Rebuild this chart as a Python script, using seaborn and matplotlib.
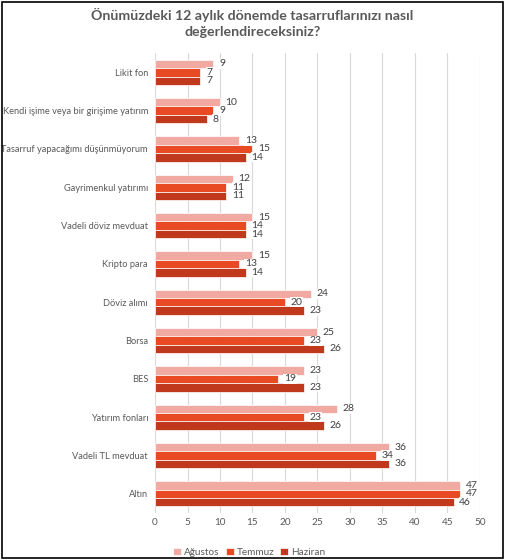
import numpy as np
import pandas as pd
import matplotlib.pyplot as plt
import seaborn as sns

categories = [
    'Likit fon',
    'Kendi işime veya bir girişime yatırım',
    'Tasarruf yapacağımı düşünmüyorum',
    'Gayrimenkul yatırımı',
    'Vadeli döviz mevduat',
    'Kripto para',
    'Döviz alımı',
    'Borsa',
    'BES',
    'Yatırım fonları',
    'Vadeli TL mevduat',
    'Altın',
]
agustos = [9, 10, 13, 12, 15, 15, 24, 25, 23, 28, 36, 47]
temmuz = [7, 9, 15, 11, 14, 13, 20, 23, 19, 23, 34, 47]
haziran = [7, 8, 14, 11, 14, 14, 23, 26, 23, 26, 36, 46]
series = ['Ağustos', 'Temmuz', 'Haziran']

df = pd.DataFrame({
    'kategori': categories * 3,
    'seri': np.repeat(series, len(categories)),
    'deger': agustos + temmuz + haziran,
})

sns.set_style('white')
plt.rcParams['font.family'] = ['Lato', 'DejaVu Sans']

fig = plt.figure(figsize=(5.05, 5.6), dpi=100)
ax = fig.add_axes([0.307, 0.084, 0.643, 0.821])

colors = {'Ağustos': '#F0AAA2', 'Temmuz': '#E84A24', 'Haziran': '#C0391C'}
sns.barplot(
    data=df, x='deger', y='kategori', hue='seri', hue_order=series,
    order=categories, palette=colors, orient='h', width=0.66,
    saturation=1, edgecolor='white', linewidth=0.5, ax=ax,
)

for cont in ax.containers:
    ax.bar_label(cont, padding=4, fontsize=7.5, color='#404040',
                 bbox=dict(boxstyle='square,pad=0.05', fc='white', ec='none'))

ax.set_xlim(0, 50)
ax.set_xticks(range(0, 51, 5))
ax.xaxis.grid(True, color='#D9D9D9', lw=0.8)
ax.set_axisbelow(True)
ax.set_xlabel('')
ax.set_ylabel('')
ax.tick_params(axis='x', labelsize=7.2, colors='#595959', length=0)
ax.tick_params(axis='y', labelsize=6.7, colors='#595959', length=0, pad=5)
for s in ax.spines.values():
    s.set_visible(False)

ax.legend(loc='lower center', bbox_to_anchor=(0.29, -0.115),
          ncol=3, frameon=False, fontsize=7.2, handlelength=0.8, handleheight=0.8,
          columnspacing=0.6, handletextpad=0.3, labelcolor='#595959')

fig.suptitle('Önümüzdeki 12 aylık dönemde tasarruflarınızı nasıl\ndeğerlendireceksiniz?',
             x=0.5, y=0.985, fontsize=10.2, fontweight='bold', color='#595959',
             linespacing=1.35)

fig.patches.append(plt.Rectangle((0.003, 0.003), 0.994, 0.994, transform=fig.transFigure,
                                 fill=False, ec='black', lw=1.2))

fig.savefig('out.png', dpi=100)
